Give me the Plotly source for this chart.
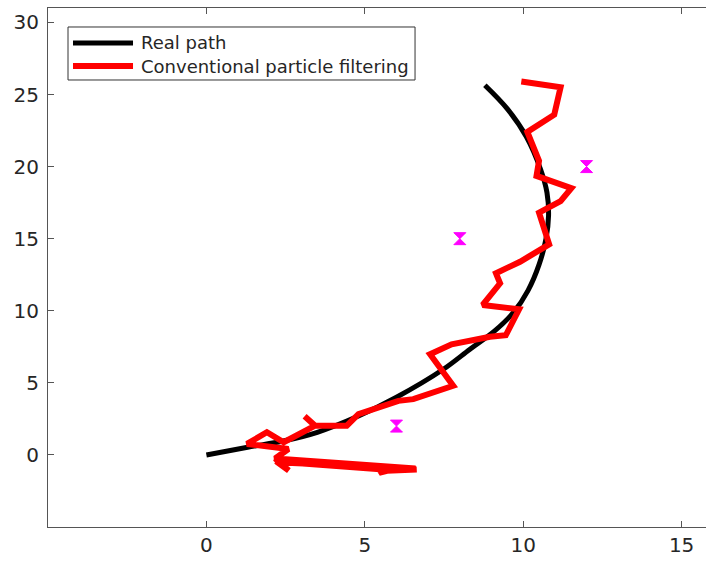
import plotly.graph_objects as go

# Real path
real_x = [0, 1.3, 2.5, 3.5, 4.8, 6.0, 7.48, 8.32, 9.1, 9.7, 10.15, 10.5, 10.72, 10.8, 10.75, 10.55, 10.1, 9.5, 8.79]
real_y = [0, 0.53, 1.0, 1.57, 2.7, 4.0, 5.94, 7.33, 8.6, 9.9, 11.4, 13.2, 15.0, 16.6, 18.2, 19.8, 22.07, 24.0, 25.64]

# Conventional particle filtering estimate
pf_x = [6.64, 5.5, 5.45, 5.8, 2.2, 2.6, 2.17, 6.6, 2.55, 2.17, 2.59, 1.28, 1.91, 2.44, 3.43, 3.1, 3.43,
        4.43, 4.8, 6.06, 6.53, 7.79, 7.06, 7.74, 8.95, 9.45, 9.87, 8.72, 9.27, 9.14, 9.9, 10.82, 10.5,
        11.18, 11.52, 10.42, 10.5, 10.13, 10.98, 11.18, 9.94]
pf_y = [-1.02, -1.12, -1.25, -1.05, -0.45, -1.08, -0.25, -0.95, -0.55, -0.25, 0.41, 0.76, 1.57, 0.88, 2.03, 2.68, 2.03,
        2.03, 2.83, 3.75, 3.87, 4.8, 6.98, 7.67, 8.2, 8.3, 10.1, 10.4, 11.9, 12.6, 13.4, 14.6, 16.8,
        17.6, 18.5, 19.35, 20.4, 22.4, 23.6, 25.5, 25.9]

# Landmarks
lm_x = [6, 8, 12]
lm_y = [2, 15, 20]

x_ticks = [0, 5, 10, 15]
y_ticks = [0, 5, 10, 15, 20, 25, 30]

legend_names = ["Real path", "Conventional particle filtering"]
legend_colors = ["black", "#FF0000"]
legend_widths = [5, 6]

fig = go.Figure()
fig.add_trace(go.Scatter(x=real_x, y=real_y, mode="lines", name=legend_names[0],
                         line=dict(color="black", width=5, shape="spline")))
fig.add_trace(go.Scatter(x=pf_x, y=pf_y, mode="lines", name=legend_names[1],
                         line=dict(color="#FF0000", width=6)))
fig.add_trace(go.Scatter(x=lm_x, y=lm_y, mode="markers", showlegend=False,
                         marker=dict(symbol="hourglass", size=12, color="#FF00FF",
                                     line=dict(color="#FF00FF", width=1))))

axis_common = dict(showgrid=False, zeroline=False, ticks="inside", ticklen=6,
                   tickcolor="#555555", linecolor="#555555", linewidth=1, showline=True,
                   tickfont=dict(family="DejaVu Sans", size=20, color="#262626"))

fig.update_xaxes(range=[-5, 15.77], tickvals=x_ticks, mirror="ticks", **axis_common)
fig.update_yaxes(range=[-5, 31], tickvals=y_ticks, mirror=False, ticklabelstandoff=4, **axis_common)

# Manual legend (MATLAB-style box with long line samples)
box = dict(x0=0.0304, x1=0.5578, y0=0.8613, y1=0.9634)
fig.add_shape(type="rect", xref="paper", yref="paper", line=dict(color="#333333", width=1),
              fillcolor="white", **box)
rows_y = [0.9326, 0.8882]
for name, color, w, yy in zip(legend_names, legend_colors, legend_widths, rows_y):
    fig.add_shape(type="line", xref="paper", yref="paper", x0=0.038, x1=0.1292, y0=yy, y1=yy,
                  line=dict(color=color, width=w))
    fig.add_annotation(xref="paper", yref="paper", x=0.1383, y=yy, text=name, showarrow=False,
                       xanchor="left", yanchor="middle",
                       font=dict(family="DejaVu Sans", size=18, color="#262626"))

fig.update_layout(width=706, height=563, margin=dict(l=48, r=0, t=8, b=36),
                  plot_bgcolor="white", paper_bgcolor="white", showlegend=False)

fig.write_html("out.html", config={"displayModeBar": False},
               post_script="document.body.style.margin='0';")
